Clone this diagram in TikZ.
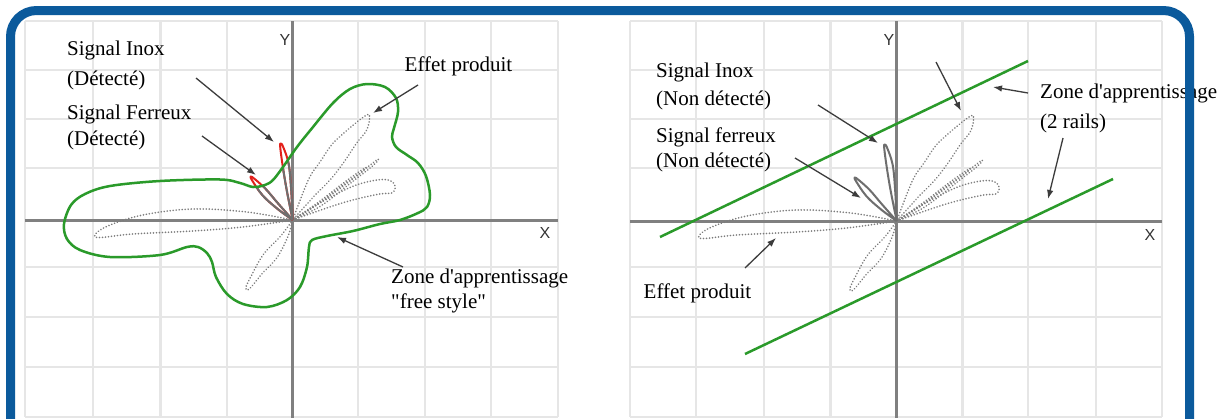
\documentclass[tikz,border=0pt]{standalone}
\usepackage{fontspec}
\setmainfont{Liberation Serif}[Ligatures=TeXOff]
\setsansfont{Liberation Sans}
\usetikzlibrary{arrows.meta}
\definecolor{frameblue}{HTML}{0B5A9C}
\definecolor{gridgray}{HTML}{E6E6E6}
\definecolor{axisgray}{HTML}{808080}
\definecolor{zonegreen}{HTML}{2A9A2A}
\definecolor{lobegray}{HTML}{7C7C7C}
\definecolor{siggray}{HTML}{6E6E6E}
\definecolor{sigred}{HTML}{E3201B}
\definecolor{arrowgray}{HTML}{3C3C3C}
\def\lobeA{plot[smooth,tension=0.6] coordinates {(0,0) (-46,-8) (-100,-11) (-150,-5) (-185,6) (-198,15) (-192,17.5) (-160,14) (-100,11) (-50,7) (0,0)}}
\def\lobeB{plot[smooth,tension=0.6] coordinates {(0,0) (-12,16) (-29,34) (-41,55) (-47,68) (-43,68.5) (-30,53) (-16,38) (-5,17) (0,0)}}
\def\lobeC{plot[smooth,tension=0.6] coordinates {(0,0) (15.6,-40) (27.3,-58) (40.6,-77) (60.6,-95) (74,-105) (77,-103) (74,-90) (64,-77) (50.6,-57) (37.3,-40) (20.6,-23) (0,0)}}
\def\lobeD{plot[smooth,tension=0.6] coordinates {(0,0) (30,-19) (60,-41) (84,-60) (81,-55) (58,-37) (28,-14) (0,0)}}
\def\lobeDD{plot[smooth,tension=0.6] coordinates {(0,0) (26,-18) (52,-38) (72,-52) (69,-48) (49,-34) (24,-15) (0,0)}}
\def\lobeE{plot[smooth,tension=0.6] coordinates {(0,0) (20,-13) (54,-31) (74,-38) (91,-40.5) (100,-38) (102.5,-32) (99,-27) (87,-26) (60,-20) (34,-12) (0,0)}}
\def\sigInox{plot[smooth,tension=0.6] coordinates {(0,0) (-6,-30) (-10,-54) (-12.5,-73) (-12,-76.5) (-9.5,-73) (-4,-56) (-1.5,-30) (0,0)}}
\def\sigFer{plot[smooth,tension=0.6] coordinates {(0,0) (-15,-17) (-27,-31) (-38,-41) (-42,-43.5) (-40.5,-39.5) (-30,-24.5) (-15,-11) (0,0)}}
\def\greenzone{plot[smooth cycle,tension=0.55] coordinates {(64,224) (71,205) (85,194) (110,186) (160,181) (220,179.5) (240,183) (253,187) (265,185) (273,180) (283,167) (297,147) (313,127) (333,103) (350,89) (367,84) (385,87) (396,98) (398,112) (394,128) (392,137) (396,147) (407,155) (418,163) (426,176) (430,195) (427,207) (418,213) (400,220) (380,224) (353,231) (327,236) (312,240) (309,247) (307,267) (300,287) (287,300) (267,307) (243,304) (227,294) (216,277) (212,262) (207,253) (198,247) (187,247) (160,255) (110,257) (80,250) (67,239)}}
\tikzset{
  gridline/.style={gridgray, line width=2.5pt},
  axisline/.style={axisgray, line width=3pt},
  lobe/.style={lobegray, line width=1.8pt, dash pattern=on 0.01pt off 3pt, line cap=round},
  sigline/.style={siggray, line width=2pt, line join=round},
  sigredline/.style={sigred, line width=2pt, line join=round},
  zone/.style={zonegreen, line width=2.5pt},
  pointer/.style={arrowgray, line width=1.3pt, -{Latex[length=9pt,width=6.5pt]}},
  lbl/.style={anchor=base west, inner sep=0pt, font=\fontsize{21}{28}\selectfont},
  axlbl/.style={anchor=base, inner sep=0pt, text=black!80, font=\sffamily\fontsize{16}{16}\selectfont},
}
\begin{document}
\begin{tikzpicture}[x=1pt,y=-1pt]
\useasboundingbox (0,0) rectangle (1228,418);
\fill[white] (0,0) rectangle (1228,418);
% ---------- grids
\foreach \gx in {25,93,160.5,227,293,358,425,491,558}
  \draw[gridline] (\gx,21) -- (\gx,417);
\foreach \gy in {21,70,119,168,220,267,317,367,417}
  \draw[gridline] (25,\gy) -- (558,\gy);
\foreach \gx in {630,696,764,830.5,897,962.5,1028,1096,1162}
  \draw[gridline] (\gx,21) -- (\gx,417);
\foreach \gy in {21,70,119,168,221,267,317,367,417}
  \draw[gridline] (630,\gy) -- (1162,\gy);
% ---------- axes
\draw[axisline] (292.7,21) -- (292.7,418);
\draw[axisline] (25,220) -- (558,220);
\draw[axisline] (896.7,21) -- (896.7,418);
\draw[axisline] (630,221) -- (1162,221);
\node[axlbl] (yL) at (285,45) {Y};
\node[axlbl] (xL) at (545,238) {X};
\node[axlbl] (yR) at (889,45) {Y};
\node[axlbl] (xR) at (1150,240) {X};
% ---------- left panel lobes
\begin{scope}[shift={(292.7,220)}]
  \draw[lobe] \lobeA; \draw[lobe] \lobeB; \draw[lobe] \lobeC;
  \draw[lobe] \lobeD; \draw[lobe] \lobeDD; \draw[lobe] \lobeE;
  \draw[sigredline] \sigInox; \draw[sigredline] \sigFer;
\end{scope}
\begin{scope}
  \clip \greenzone;
  \begin{scope}[shift={(292.7,220)}]
    \draw[sigline] \sigInox; \draw[sigline] \sigFer;
  \end{scope}
\end{scope}
\draw[zone] \greenzone;
% ---------- right panel lobes
\begin{scope}[shift={(896.7,221)}]
  \draw[lobe] \lobeA; \draw[lobe] \lobeB; \draw[lobe] \lobeC;
  \draw[lobe] \lobeD; \draw[lobe] \lobeDD; \draw[lobe] \lobeE;
  \draw[sigline] \sigInox; \draw[sigline] \sigFer;
\end{scope}
% ---------- rails
\coordinate (r1a) at (660,237); \coordinate (r1b) at (1028,61);
\coordinate (r2a) at (745,354); \coordinate (r2b) at (1113,179);
\draw[zone] (r1a) -- (r1b);
\draw[zone] (r2a) -- (r2b);
% ---------- labels
\node[lbl] (inoxL) at (67,55) {\begin{tabular}[t]{@{}l@{}}Signal Inox\\[2pt](Détecté)\end{tabular}};
\node[lbl] (ferL) at (67,119) {\begin{tabular}[t]{@{}l@{}}Signal Ferreux\\[-2pt](Détecté)\end{tabular}};
\node[lbl] (effL) at (404.5,71) {Effet produit};
\node[lbl] (zoneL) at (391,283) {\begin{tabular}[t]{@{}l@{}}Zone d'apprentissage\\[-3pt]"free style"\end{tabular}};
\node[lbl] (inoxR) at (656,77) {\begin{tabular}[t]{@{}l@{}}Signal Inox\\(Non détecté)\end{tabular}};
\node[lbl] (ferR) at (656,142) {\begin{tabular}[t]{@{}l@{}}Signal ferreux\\[-3pt](Non détecté)\end{tabular}};
\node[lbl] (zoneR) at (1040,98) {\begin{tabular}[t]{@{}l@{}}Zone d'apprentissage\\[2pt](2 rails)\end{tabular}};
\node[lbl] (effR) at (643.5,298) {Effet produit};
% ---------- arrows
\coordinate (aInoxL) at (196,78);  \coordinate (bInoxL) at (274,142);
\coordinate (aFerL) at (202,136);  \coordinate (bFerL) at (256,175);
\coordinate (aEffL) at (418,85);   \coordinate (bEffL) at (373,113);
\coordinate (aZoneL) at (403,267); \coordinate (bZoneL) at (337,237);
\coordinate (aInoxR) at (818,105); \coordinate (bInoxR) at (878,143);
\coordinate (aFerR) at (795,158);  \coordinate (bFerR) at (861,198);
\coordinate (aEffR) at (745,268);  \coordinate (bEffR) at (776,238);
\coordinate (aTopR) at (936,62);   \coordinate (bTopR) at (961,111);
\coordinate (aZoneR) at (1028,93); \coordinate (bZoneR) at (993,87);
\coordinate (aRailR) at (1063,138); \coordinate (bRailR) at (1048,199);
\foreach \p in {InoxL,FerL,EffL,ZoneL,InoxR,FerR,EffR,TopR,ZoneR,RailR}
  \draw[pointer] (a\p) -- (b\p);
% ---------- frame
\draw[frameblue, line width=9pt, rounded corners=26pt] (10.5,470) -- (10.5,10.5) -- (1189.5,10.5) -- (1189.5,470);
\end{tikzpicture}
\end{document}
